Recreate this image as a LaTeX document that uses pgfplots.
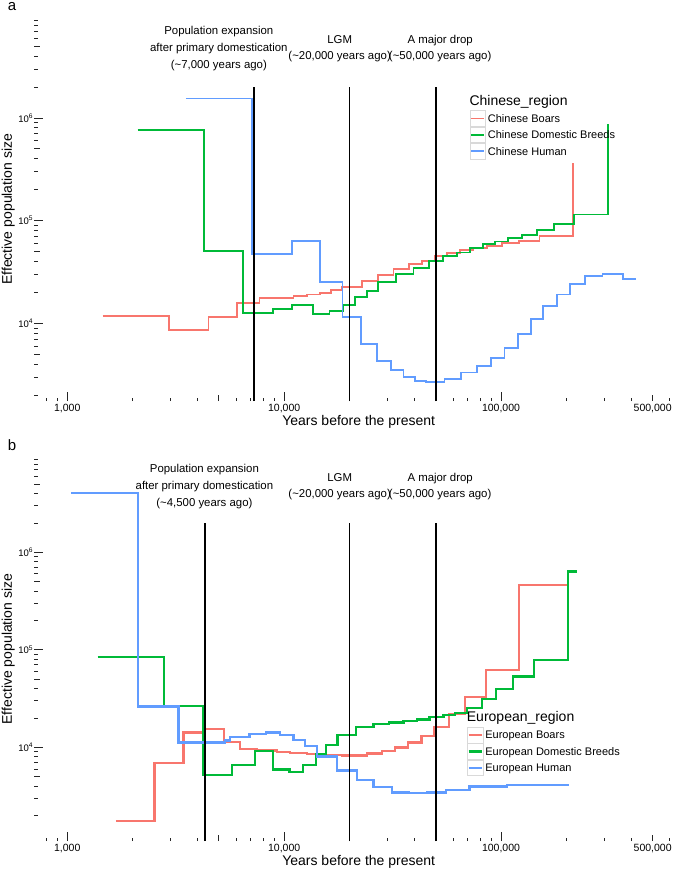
\documentclass[border=0pt]{standalone}
\usepackage{fontspec}
\setmainfont{Liberation Sans}
\usepackage{pgfplots}
\pgfplotsset{compat=1.18}

\definecolor{cred}{HTML}{F8766D}
\definecolor{cgreen}{HTML}{00BA38}
\definecolor{cblue}{HTML}{619CFF}

\tikzset{ann/.style={align=center, yshift=-2.5pt, font=\fontsize{11.4}{16.7}\selectfont},
  legtitle/.style={anchor=west, inner sep=0pt, font=\fontsize{14}{16}\selectfont}}

% legend key: light grey box with a short line in it
\pgfplotsset{legend image code/.code={
    \draw[black!15, line width=0.6pt, fill=white] (0pt,-7.9pt) rectangle (15.8pt,7.9pt);
    \draw[#1] (1.5pt,0pt) -- (14.3pt,0pt);}}

\begin{document}
\begin{tikzpicture}
\path[use as bounding box] (0,0) rectangle (675pt,-871pt);
\node[anchor=base, inner sep=0pt, font=\fontsize{15}{17}\selectfont] at (12pt,-10pt) {a};
\node[anchor=base, inner sep=0pt, font=\fontsize{15}{17}\selectfont] at (12pt,-450.7pt) {b};

% panel a
\begin{axis}[at={(34.3pt,-401pt)}, anchor=south west,
    scale only axis, width=640.1pt, height=383.4pt,
    xmode=log, ymode=log,
    xmin=705, xmax=630000, ymin=1750, ymax=9.48e6,
    axis x line*=bottom, axis y line*=left,
    axis line style={draw=none},
    tick align=inside,
    tick style={black!85, line width=0.8pt},
    major tick length=9pt, minor tick length=3.5pt,
    xtick={1000,10000,100000},
    xticklabels={{1,000},{10,000},{100,000}},
    minor xtick={800,900,2000,3000,4000,6000,7000,8000,9000,20000,30000,40000,60000,70000,80000,90000,200000,300000,400000,600000},
    extra x ticks={5000,50000,500000},
    extra x tick labels={,,{500,000}},
    extra x tick style={major tick length=6pt},
    ytick={1e4,1e5,1e6},
    yticklabels={{10\textsuperscript{4}},{10\textsuperscript{5}},{10\textsuperscript{6}}},
    minor ytick={2000,3000,4000,6000,7000,8000,9000,20000,30000,40000,60000,70000,80000,90000,200000,300000,400000,600000,700000,800000,900000,2e6,3e6,4e6,6e6,7e6,8e6,9e6},
    extra y ticks={5000,50000,500000,5e6},
    extra y tick labels={,,,},
    extra y tick style={major tick length=6pt},
    xticklabel style={font=\fontsize{10.5}{12}\selectfont},
    yticklabel style={font=\fontsize{9.5}{11}\selectfont, inner xsep=1pt},
    xlabel={Years before the present},
    ylabel={Effective population size},
    xlabel style={font=\fontsize{14}{16}\selectfont, at={(axis description cs:0.5068,-0.0548)}, anchor=center},
    ylabel style={font=\fontsize{14}{16}\selectfont, at={(axis description cs:-0.0406,0.5)}, anchor=center},
    legend cell align=left,
    legend style={at={(0.6796,0.759)}, anchor=north west, draw=none, fill=none,
      inner sep=0pt, row sep=0pt, column sep=2pt,
      font=\fontsize{11}{13}\selectfont,
      nodes={inner sep=0pt, text height=11.8pt, text depth=4pt}}]
\addplot[cred, line width=1.7pt, const plot] coordinates {
  (1455,11780) (2950,8610) (4480,11440) (6050,15650) (7690,17760) (11040,18450)
  (12725,19000) (14660,19870) (16470,21100) (18450,22700) (22800,25800) (27000,29500)
  (31900,33560) (37670,37540) (43110,40700) (49650,45200) (56550,48660) (64700,51760)
  (74500,53740) (85900,56600) (100700,60100) (121000,63700) (150200,70800) (215400,366000)};
\addlegendentry{Chinese Boars}
\addplot[cgreen, line width=1.7pt, const plot] coordinates {
  (2110,762000) (4265,50200) (6475,12680) (8870,13690) (10850,15170) (13550,12320)
  (16200,13090) (18650,15070) (21230,17910) (24040,20760) (27030,25060) (32740,29990)
  (39450,34750) (46560,40440) (54200,45200) (62500,49000) (71900,54400) (82400,58800)
  (93800,62400) (108000,67300) (124600,72500) (147000,81000) (175400,92000)
  (216800,115000) (311800,867000)};
\addlegendentry{Chinese Domestic Breeds}
\addplot[cblue, line width=1.7pt, const plot] coordinates {
  (3525,1540000) (7100,47300) (10850,63700) (14660,25100) (18580,11440) (22540,6290)
  (26710,4325) (31100,3510) (35470,3020) (40150,2740) (45100,2665) (54800,2870)
  (65400,3305) (77300,3865) (89700,4560) (103600,5780) (119300,7810) (137400,10940)
  (156600,14730) (180600,19100) (208000,24150) (243800,28870) (294000,30000)
  (364000,26800) (419000,26800)};
\addlegendentry{Chinese Human}
\addplot[black, line width=1.7pt, forget plot] coordinates {(7270,1750) (7270,2e6)};
\addplot[black, line width=1.7pt, forget plot] coordinates {(20000,1750) (20000,2e6)};
\addplot[black, line width=1.7pt, forget plot] coordinates {(50000,1750) (50000,2e6)};
\node[ann] at (axis cs:5000,5e6) {Population expansion\\after primary domestication\\(\textasciitilde 7,000 years ago)};
\node[ann] at (axis cs:18030,5e6) {LGM\\(\textasciitilde 20,000 years ago)};
\node[ann] at (axis cs:52400,5e6) {A major drop\\(\textasciitilde 50,000 years ago)};
\node[legtitle] at (rel axis cs:0.6796,0.78) {Chinese\_region};
\end{axis}

% panel b
\begin{axis}[at={(34.3pt,-841pt)}, anchor=south west,
    scale only axis, width=640.1pt, height=384pt,
    xmode=log, ymode=log,
    xmin=705, xmax=630000, ymin=1094, ymax=9.48e6,
    axis x line*=bottom, axis y line*=left,
    axis line style={draw=none},
    tick align=inside,
    tick style={black!85, line width=0.8pt},
    major tick length=9pt, minor tick length=3.5pt,
    xtick={1000,10000,100000},
    xticklabels={{1,000},{10,000},{100,000}},
    minor xtick={800,900,2000,3000,4000,6000,7000,8000,9000,20000,30000,40000,60000,70000,80000,90000,200000,300000,400000,600000},
    extra x ticks={5000,50000,500000},
    extra x tick labels={,,{500,000}},
    extra x tick style={major tick length=6pt},
    ytick={1e4,1e5,1e6},
    yticklabels={{10\textsuperscript{4}},{10\textsuperscript{5}},{10\textsuperscript{6}}},
    minor ytick={2000,3000,4000,6000,7000,8000,9000,20000,30000,40000,60000,70000,80000,90000,200000,300000,400000,600000,700000,800000,900000,2e6,3e6,4e6,6e6,7e6,8e6,9e6},
    extra y ticks={5000,50000,500000,5e6},
    extra y tick labels={,,,},
    extra y tick style={major tick length=6pt},
    xticklabel style={font=\fontsize{10.5}{12}\selectfont},
    yticklabel style={font=\fontsize{9.5}{11}\selectfont, inner xsep=1pt},
    xlabel={Years before the present},
    ylabel={Effective population size},
    xlabel style={font=\fontsize{14}{16}\selectfont, at={(axis description cs:0.5068,-0.0547)}, anchor=center},
    ylabel style={font=\fontsize{14}{16}\selectfont, at={(axis description cs:-0.0406,0.5)}, anchor=center},
    legend cell align=left,
    legend style={at={(0.6755,0.2977)}, anchor=north west, draw=none, fill=none,
      inner sep=0pt, row sep=0pt, column sep=2pt,
      font=\fontsize{11}{13}\selectfont,
      nodes={inner sep=0pt, text height=11.8pt, text depth=4pt}}]
\addplot[cred, line width=2.4pt, const plot] coordinates {
  (1675,1766) (2525,6950) (3435,14120) (4250,15300) (5290,11410) (6270,9610)
  (7485,9230) (9250,9010) (10660,8800) (12720,8530) (15170,8340) (18450,8200)
  (24050,8630) (28200,9100) (32480,9950) (37240,11200) (42930,13060) (49270,16260)
  (57700,21960) (68200,33000) (85300,61700) (121300,462000) (204300,462000)};
\addlegendentry{European Boars}
\addplot[cgreen, line width=2.4pt, const plot] coordinates {
  (1380,84400) (2790,26700) (4250,5200) (5740,6580) (7350,9160) (8870,5945)
  (10570,5545) (12190,6580) (14050,8400) (15630,10560) (17630,13370) (21480,16150)
  (25790,17220) (30500,17950) (35470,18520) (40890,19360) (46720,20310) (54200,21430)
  (61380,22630) (69500,25300) (81470,31250) (95040,39600) (113500,53200)
  (142200,78500) (203600,632000) (222800,632000)};
\addlegendentry{European Domestic Breeds}
\addplot[cblue, line width=2.4pt, const plot] coordinates {
  (1043,4080000) (2118,26100) (3259,11250) (5350,11700) (5640,12665) (6920,13690)
  (8260,14120) (9580,13370) (11050,11880) (12500,10380) (14160,8010) (17500,5800)
  (21620,4620) (25790,3890) (31330,3450) (37670,3375) (45470,3450) (55650,3650)
  (71450,3945) (106200,4105) (206500,4105)};
\addlegendentry{European Human}
\addplot[black, line width=1.6pt, forget plot] coordinates {(4330,1094) (4330,2e6)};
\addplot[black, line width=1.6pt, forget plot] coordinates {(20000,1094) (20000,2e6)};
\addplot[black, line width=1.6pt, forget plot] coordinates {(50000,1094) (50000,2e6)};
\node[ann] at (axis cs:4290,5e6) {Population expansion\\after primary domestication\\(\textasciitilde 4,500 years ago)};
\node[ann] at (axis cs:18030,5e6) {LGM\\(\textasciitilde 20,000 years ago)};
\node[ann] at (axis cs:52400,5e6) {A major drop\\(\textasciitilde 50,000 years ago)};
\node[legtitle] at (rel axis cs:0.6755,0.3195) {European\_region};
\end{axis}
\end{tikzpicture}
\end{document}
